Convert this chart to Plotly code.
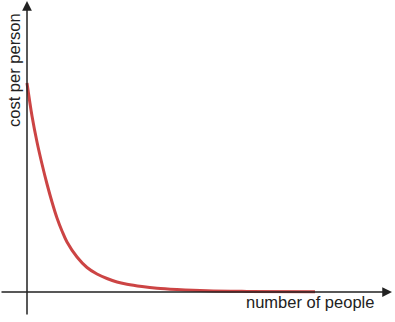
import plotly.graph_objects as go

# number of people (arbitrary units) and cost per person (arbitrary units)
people = [0.0, 0.5, 1.0, 1.5, 2.0, 2.5, 3.0, 3.5, 4.0, 5.0, 6.0, 7.0, 8.0, 9.0, 10.0, 11.5, 13.0, 15.0, 18.0, 22.0, 28.8]
cost = [20.9, 17.6, 15.0, 12.8, 10.8, 9.0, 7.4, 6.1, 5.0, 3.5, 2.45, 1.8, 1.35, 1.0, 0.78, 0.55, 0.38, 0.25, 0.12, 0.06, 0.03]

x_label = "number of people"
y_label = "cost per person"

fig = go.Figure()
fig.add_trace(go.Scatter(
    x=people, y=cost, mode="lines",
    line=dict(color="#cc4444", width=3, shape="spline", smoothing=1.0),
    hoverinfo="skip", showlegend=False,
))

axis_col = "#222222"
fig.add_annotation(x=0, y=29.1, ax=0, ay=-2.4, xref="x", yref="y", axref="x", ayref="y",
                   showarrow=True, arrowhead=2, arrowsize=1.3, arrowwidth=1.5,
                   arrowcolor=axis_col, text="")
fig.add_annotation(x=36.5, y=0, ax=-2.7, ay=0, xref="x", yref="y", axref="x", ayref="y",
                   showarrow=True, arrowhead=2, arrowsize=1.3, arrowwidth=1.5,
                   arrowcolor=axis_col, text="")

fig.add_annotation(x=-1.3, y=22.2, xref="x", yref="y", text=y_label, textangle=-90,
                   showarrow=False, font=dict(family="Liberation Sans, Arial", size=16.5, color="#222"))
fig.add_annotation(x=28.3, y=-1.0, xref="x", yref="y", text=x_label,
                   showarrow=False, font=dict(family="Liberation Sans, Arial", size=16.5, color="#222"))

fig.update_layout(
    width=395, height=322, margin=dict(l=0, r=0, t=0, b=0),
    plot_bgcolor="white", paper_bgcolor="white",
    xaxis=dict(range=[-2.7, 36.8], visible=False, fixedrange=True),
    yaxis=dict(range=[-3.0, 29.2], visible=False, fixedrange=True),
)
fig.write_html("out.html")
